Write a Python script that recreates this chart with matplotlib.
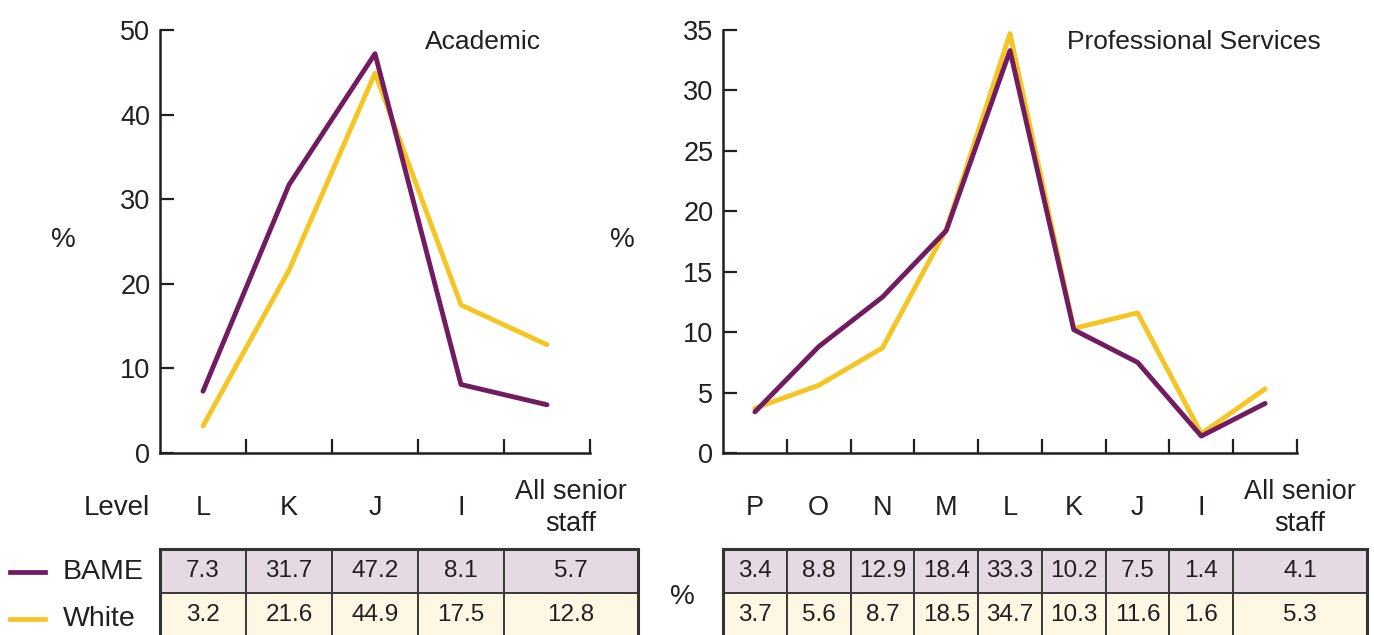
import numpy as np
import matplotlib.pyplot as plt
from matplotlib.lines import Line2D

plt.rcParams['font.family'] = ['Liberation Sans', 'DejaVu Sans']

# data
acad_levels = ['L', 'K', 'J', 'I', 'All senior\nstaff']
acad_bame = [7.3, 31.7, 47.2, 8.1, 5.7]
acad_white = [3.2, 21.6, 44.9, 17.5, 12.8]

ps_levels = ['P', 'O', 'N', 'M', 'L', 'K', 'J', 'I', 'All senior\nstaff']
ps_bame = [3.4, 8.8, 12.9, 18.4, 33.3, 10.2, 7.5, 1.4, 4.1]
ps_white = [3.7, 5.6, 8.7, 18.5, 34.7, 10.3, 11.6, 1.6, 5.3]

PURPLE = '#711b61'
YELLOW = '#f5c623'
INK = '#231f20'
BAME_FILL = '#e5dae3'
WHITE_FILL = '#fdf7e4'

W, H = 1374, 635
fig = plt.figure(figsize=(W / 100, H / 100), dpi=100)


def fx(x):
    return x / W


def fy(y):
    return 1 - y / H


def panel(x0, x1, ymax, ystep, levels, bame, white, title, title_x, table_right, ylab_x):
    n = len(levels)
    ax = fig.add_axes([fx(x0), fy(453), fx(x1 - x0), (453 - 30) / H])
    xs = np.arange(n)
    ax.plot(xs, white, color=YELLOW, lw=3.5, solid_capstyle='round')
    ax.plot(xs, bame, color=PURPLE, lw=3.5, solid_capstyle='round')
    ax.set_xlim(-0.5, n - 0.5)
    ax.set_ylim(0, ymax)
    ax.set_yticks(np.arange(0, ymax + 1, ystep))
    ax.set_xticks(np.arange(n) + 0.5)
    ax.set_xticklabels([])
    for s in ['top', 'right']:
        ax.spines[s].set_visible(False)
    for s in ['left', 'bottom']:
        ax.spines[s].set_linewidth(1.8)
        ax.spines[s].set_color(INK)
    ax.tick_params(direction='in', length=10, width=1.6, color=INK,
                   labelsize=19.5, labelcolor=INK, pad=7)
    ax.set_ylabel('%', rotation=0, fontsize=20, color=INK, va='center', ha='center')
    ax.yaxis.set_label_coords((ylab_x - x0) / (x1 - x0), (453 - 240) / 423)
    ax.text((title_x - x0) / (x1 - x0), (453 - 42) / 423, title, transform=ax.transAxes,
            ha='center', va='center', fontsize=19, color=INK)

    # table under the plot
    cw = (x1 - x0) / n
    widths = [cw] * (n - 1) + [table_right - (x0 + cw * (n - 1))]
    tax = fig.add_axes([fx(x0), fy(637), fx(table_right - x0), (637 - 549) / H])
    tax.set_xticks([])
    tax.set_yticks([])
    for s in tax.spines.values():
        s.set_linewidth(2.2)
        s.set_color('#333333')
    tot = sum(widths)
    tab = tax.table(cellText=[[f'{v:.1f}' for v in bame], [f'{v:.1f}' for v in white]],
                    cellColours=[[BAME_FILL] * n, [WHITE_FILL] * n],
                    colWidths=[w / tot for w in widths], cellLoc='center', bbox=[0, 0, 1, 1])
    tab.auto_set_font_size(False)
    for (r, c), cell in tab.get_celld().items():
        cell.set_edgecolor('#3a3a3a')
        cell.set_linewidth(1.4)
        cell.get_text().set_fontsize(17.5)
        cell.get_text().set_color(INK)
    left = x0
    for lab, w in zip(levels, widths):
        fig.text(fx(left + w / 2), fy(508), lab, ha='center', va='center',
                 fontsize=19.5, color=INK, linespacing=1.3)
        left += w
    return ax


panel(160, 590, 50, 10, acad_levels, acad_bame, acad_white, 'Academic', 483, 638, 63)
panel(723, 1297, 35, 5, ps_levels, ps_bame, ps_white, 'Professional Services', 1194, 1367, 622)

# row labels / legend
fig.text(fx(150), fy(508), 'Level', ha='right', va='center', fontsize=20, color=INK)
fig.add_artist(Line2D([fx(10), fx(45)], [fy(572), fy(572)], color=PURPLE, lw=3.4))
fig.add_artist(Line2D([fx(10), fx(45)], [fy(619), fy(619)], color=YELLOW, lw=3.4))
fig.text(fx(63), fy(572), 'BAME', ha='left', va='center', fontsize=20.5, color=INK)
fig.text(fx(63), fy(619), 'White', ha='left', va='center', fontsize=20.5, color=INK)
fig.text(fx(682), fy(597), '%', ha='center', va='center', fontsize=20, color=INK)

plt.savefig('out.png', dpi=100)
